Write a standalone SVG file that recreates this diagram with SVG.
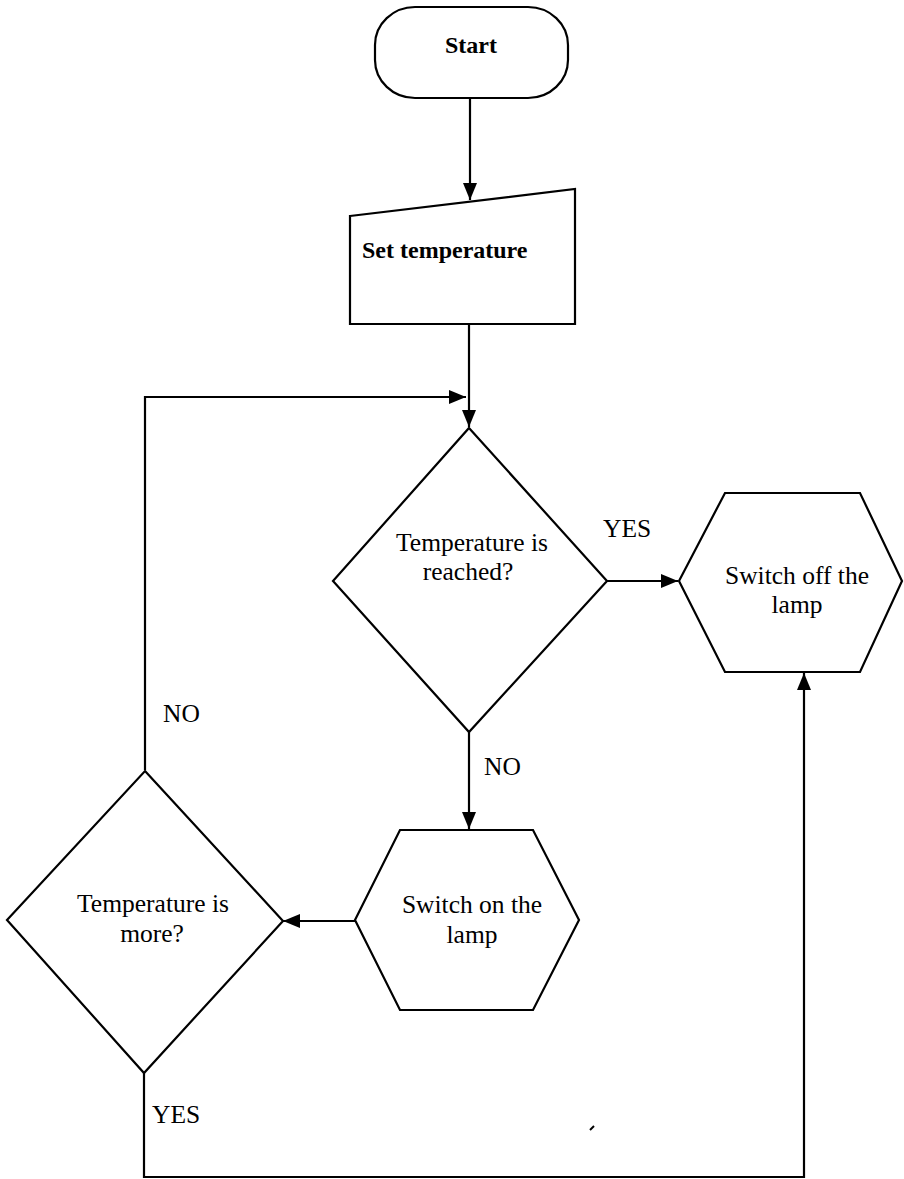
<svg xmlns="http://www.w3.org/2000/svg" width="904" height="1179" viewBox="0 0 904 1179">
  <style>
    .shape { fill: #ffffff; stroke: #000000; stroke-width: 2.2; stroke-linejoin: miter; }
    .conn { fill: none; stroke: #000000; stroke-width: 2.2; }
    .t { font-family: "Liberation Serif", "Times New Roman", serif; font-size: 25.5px; fill: #000000; }
    .tb { font-family: "Liberation Serif", "Times New Roman", serif; font-size: 24px; font-weight: bold; fill: #000000; }
    .c { text-anchor: middle; }
  </style>
  <defs>
    <marker id="arrow" markerUnits="userSpaceOnUse" markerWidth="17" markerHeight="14" refX="17" refY="7" orient="auto">
      <path d="M0,0 L17,7 L0,14 z" fill="#000000"/>
    </marker>
  </defs>
  <rect width="904" height="1179" fill="#ffffff"/>

  <g id="connectors">
    <line class="conn" x1="470" y1="98" x2="470" y2="200" marker-end="url(#arrow)"/>
    <line class="conn" x1="469" y1="324" x2="469" y2="427" marker-end="url(#arrow)"/>
    <polyline class="conn" points="145,770 145,397 466,397" marker-end="url(#arrow)"/>
    <line class="conn" x1="607" y1="581" x2="678" y2="581" marker-end="url(#arrow)"/>
    <line class="conn" x1="469" y1="732" x2="469" y2="829" marker-end="url(#arrow)"/>
    <line class="conn" x1="355" y1="921" x2="283" y2="921" marker-end="url(#arrow)"/>
    <polyline class="conn" points="144,1073 144,1177 804,1177 804,673" marker-end="url(#arrow)"/>
    <path d="M590,1130 L594,1126" stroke="#000000" stroke-width="2" fill="none"/>
  </g>

  <g id="start">
    <rect class="shape" x="375" y="7" width="193" height="91" rx="40" ry="38"/>
    <text class="tb c" x="471" y="53">Start</text>
  </g>

  <g id="set-temperature">
    <polygon class="shape" points="350,216 575,189 575,324 350,324"/>
    <text class="tb" x="362" y="258">Set temperature</text>
  </g>

  <g id="temp-reached">
    <polygon class="shape" points="469,428 607,581 469,732 333,581"/>
    <text class="t c" x="472" y="551">Temperature is</text>
    <text class="t c" x="468" y="580">reached?</text>
  </g>

  <g id="switch-off">
    <polygon class="shape" points="725,493 860,493 902,581 860,672 725,672 679,581"/>
    <text class="t c" x="797" y="584">Switch off the</text>
    <text class="t c" x="797" y="613">lamp</text>
  </g>

  <g id="switch-on">
    <polygon class="shape" points="400,830 533,830 579,920 533,1010 400,1010 355,920"/>
    <text class="t c" x="472" y="913">Switch on the</text>
    <text class="t c" x="472" y="943">lamp</text>
  </g>

  <g id="temp-more">
    <polygon class="shape" points="145,771 283,921 144,1073 7,920"/>
    <text class="t c" x="153" y="912">Temperature is</text>
    <text class="t c" x="152" y="942">more?</text>
  </g>

  <g id="labels">
    <text class="t" x="603" y="537">YES</text>
    <text class="t" x="484" y="775">NO</text>
    <text class="t" x="163" y="722">NO</text>
    <text class="t" x="152" y="1123">YES</text>
  </g>
</svg>
